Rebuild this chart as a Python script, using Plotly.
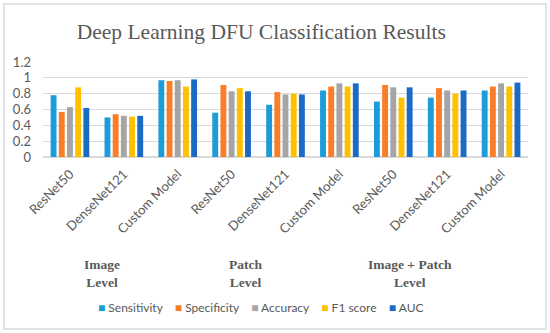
import plotly.graph_objects as go

# ---- data ----
models = ["ResNet50", "DenseNet121", "Custom Model",
          "ResNet50", "DenseNet121", "Custom Model",
          "ResNet50", "DenseNet121", "Custom Model"]
groups = ["Image<br>Level", "Patch<br>Level", "Image + Patch<br>Level"]
sensitivity = [0.78, 0.50, 0.97, 0.56, 0.66, 0.84, 0.70, 0.75, 0.84]
specificity = [0.57, 0.54, 0.96, 0.91, 0.82, 0.89, 0.91, 0.87, 0.89]
accuracy    = [0.63, 0.52, 0.97, 0.83, 0.79, 0.93, 0.88, 0.84, 0.93]
f1_score    = [0.88, 0.51, 0.89, 0.87, 0.80, 0.89, 0.75, 0.80, 0.89]
auc         = [0.62, 0.52, 0.98, 0.83, 0.79, 0.93, 0.88, 0.84, 0.94]
y_ticks = [0, 0.2, 0.4, 0.6, 0.8, 1, 1.2]

series_names = ["Sensitivity", "Specificity", "Accuracy", "F1 score", "AUC"]
series_values = [sensitivity, specificity, accuracy, f1_score, auc]
series_colors = ["#1C9CD8", "#FA7D27", "#A5A5A5", "#FFC000", "#1B6BC4"]

x_idx = list(range(len(models)))

fig = go.Figure()
for name, vals, col in zip(series_names, series_values, series_colors):
    fig.add_trace(go.Bar(x=x_idx, y=vals, name=name, marker_color=col,
                         marker_line_width=0, showlegend=False))

grey = "#595959"
sans = "Lato, Open Sans, sans-serif"
serif = "Liberation Serif, serif"

fig.update_layout(
    width=550, height=333,
    paper_bgcolor="white", plot_bgcolor="white",
    margin=dict(l=43, r=22, t=62, b=176, autoexpand=False),
    barmode="group", bargap=0.24, bargroupgap=0.28,
    title=dict(text="Deep Learning DFU Classification Results",
               xref="paper", x=0.45, xanchor="center",
               yref="container", y=0.905, yanchor="middle",
               font=dict(family=serif, size=21.5, color=grey)),
    font=dict(family=sans, color=grey),
    showlegend=False,
)
fig.update_xaxes(tickmode="array", tickvals=x_idx, ticktext=models,
                 tickangle=-45, tickfont=dict(family=sans, size=13, color=grey),
                 ticklabelstandoff=6,
                 range=[-0.5, len(models) - 0.5], automargin=False,
                 showgrid=False, showline=False, ticks="", zeroline=False)
fig.update_yaxes(range=[0, 1.2], tickvals=y_ticks, ticktext=[str(v) for v in y_ticks],
                 tickfont=dict(family=sans, size=13, color=grey), automargin=False,
                 ticklabelstandoff=11,
                 showgrid=True, gridcolor="#d9d9d9", gridwidth=1,
                 zeroline=True, zerolinecolor="#d9d9d9", showline=False, ticks="")

# group labels under each group of three models
shifts = [-22, -40, -37]
for g, label in enumerate(groups):
    center = sum(x_idx[g * 3:(g + 1) * 3]) / 3
    fig.add_annotation(x=center, y=-1.23, xref="x", yref="paper",
                       text="<b>" + label + "</b>", showarrow=False,
                       xshift=shifts[g], yanchor="middle",
                       font=dict(family=serif, size=13.5, color=grey))

# compact legend built from the series names and colours
nb = "\u00a0"
legend_text = (nb * 4).join(
    f"<span style='color:{c}'>■</span>{nb}{n}" for n, c in zip(series_names, series_colors))
fig.add_annotation(x=0.45, y=-1.58, xref="paper", yref="paper", showarrow=False,
                   xanchor="center", yanchor="middle", text=legend_text,
                   font=dict(family=sans, size=12, color=grey))

# outer chart border
fig.add_shape(type="rect", xref="paper", yref="paper",
              x0=-39/485, x1=1 + 18/485, y0=-172/95, y1=1 + 58/95,
              line=dict(color="#d9d9d9", width=1.5), fillcolor="rgba(0,0,0,0)")

fig.write_html("out.html", config={"displayModeBar": False},
               post_script="document.body.style.margin='0';")
